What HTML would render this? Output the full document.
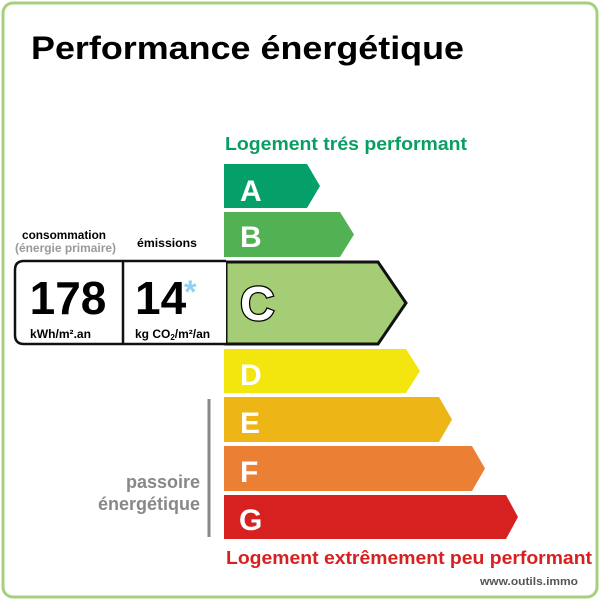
<!DOCTYPE html>
<html><head><meta charset="utf-8"><style>
html,body{margin:0;padding:0;background:#fff;}
svg{display:block;font-family:"Liberation Sans",Arial,sans-serif;font-weight:bold;}
</style></head><body>
<svg width="600" height="600" viewBox="0 0 600 600" xmlns="http://www.w3.org/2000/svg">
<rect x="3" y="3" width="594" height="594" rx="10" fill="#fff" stroke="#a6d17c" stroke-width="3"/>
<text x="31" y="59" font-size="32" fill="#000" textLength="433" lengthAdjust="spacingAndGlyphs">Performance énergétique</text>
<text x="225" y="150" font-size="18" fill="#0a9e65" textLength="242" lengthAdjust="spacingAndGlyphs">Logement trés performant</text>
<polygon points="224,164 307,164 320,186 307,208 224,208" fill="#05a06a"/>
<text x="240" y="201" font-size="30" fill="#fff">A</text>
<polygon points="224,212 340,212 354,234.5 340,257 224,257" fill="#52b152"/>
<text x="240" y="247" font-size="30" fill="#fff">B</text>
<polygon points="226,262 378,262 406,303 378,344 226,344" fill="#a5cd76" stroke="#111" stroke-width="3"/>
<text x="240" y="320" font-size="48" fill="#fff" stroke="#000" stroke-width="2.5" paint-order="stroke">C</text>
<polygon points="224,349 406,349 420,371 406,393 224,393" fill="#f2e60e"/>
<text x="240" y="385" font-size="30" fill="#fff">D</text>
<polygon points="224,397 439,397 452,419.5 439,442 224,442" fill="#edb515"/>
<text x="240" y="433" font-size="30" fill="#fff">E</text>
<polygon points="224,446 472,446 485,468.5 472,491 224,491" fill="#eb8035"/>
<text x="240" y="482" font-size="30" fill="#fff">F</text>
<polygon points="224,495 506,495 518,517 506,539 224,539" fill="#d72120"/>
<text x="239" y="530" font-size="30" fill="#fff">G</text>
<text x="226" y="564" font-size="18" fill="#d72120" textLength="366" lengthAdjust="spacingAndGlyphs">Logement extrêmement peu performant</text>
<text x="480" y="585" font-size="11" fill="#555" textLength="98" lengthAdjust="spacingAndGlyphs">www.outils.immo</text>
<line x1="209" y1="399" x2="209" y2="537" stroke="#888" stroke-width="3"/>
<text x="200" y="488" font-size="18" fill="#888" text-anchor="end">passoire</text>
<text x="200" y="510" font-size="18" fill="#888" text-anchor="end">énergétique</text>
<text x="22" y="239" font-size="12" fill="#000" textLength="84" lengthAdjust="spacingAndGlyphs">consommation</text>
<text x="15" y="252" font-size="12" fill="#999" textLength="101" lengthAdjust="spacingAndGlyphs">(énergie primaire)</text>
<text x="137" y="247" font-size="12" fill="#000" textLength="60" lengthAdjust="spacingAndGlyphs">émissions</text>
<path d="M226,261 L24,261 Q15,261 15,270 L15,335 Q15,344 24,344 L226,344" fill="#fff" stroke="#111" stroke-width="2.5"/>
<line x1="123" y1="261" x2="123" y2="344" stroke="#111" stroke-width="2.5"/>
<text x="68" y="314" font-size="46" fill="#000" text-anchor="middle">178</text>
<text x="135" y="314" font-size="46" fill="#000">14</text>
<text x="184" y="303" font-size="32" fill="#8fd3f0">*</text>
<text x="30" y="338" font-size="12" fill="#000" textLength="61" lengthAdjust="spacingAndGlyphs">kWh/m².an</text>
<text x="135" y="338" font-size="12" fill="#000">kg CO<tspan font-size="8" dy="2">2</tspan><tspan dy="-2">/m²/an</tspan></text>
</svg>
</body></html>
